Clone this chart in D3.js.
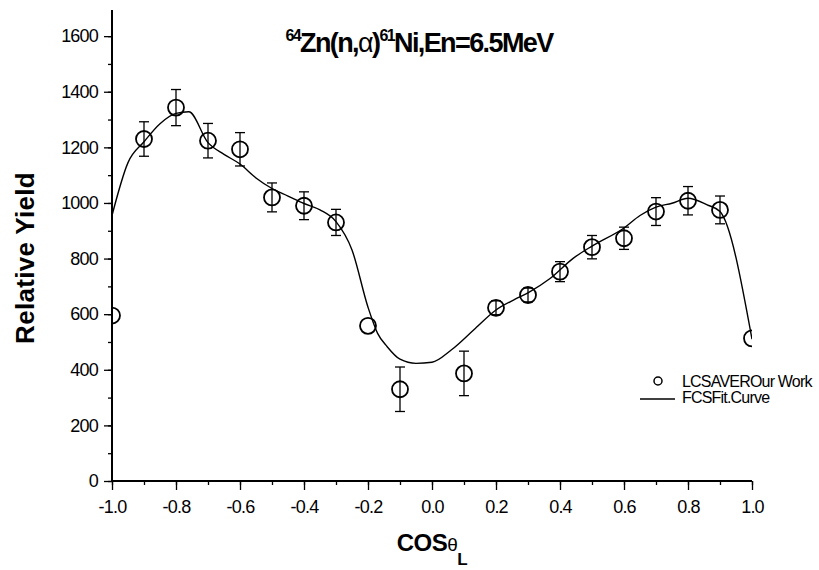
<!DOCTYPE html>
<html>
<head>
<meta charset="utf-8">
<script src="https://cdn.jsdelivr.net/npm/d3@7"></script>
<style>
  html, body { margin: 0; padding: 0; background: #fff; }
  svg { display: block; }
  text { font-family: "Liberation Sans", Arial, sans-serif; fill: #000; }
</style>
</head>
<body>
<svg id="chart" width="819" height="570"></svg>
<script>
// Measured angular distribution (cos theta_L, relative yield, uncertainty)
const measCos = [-1.0, -0.9, -0.8, -0.7, -0.6, -0.5, -0.4, -0.3, -0.2, -0.1, 0.1, 0.2, 0.3, 0.4, 0.5, 0.6, 0.7, 0.8, 0.9, 1.0];
const measYield = [595, 1230, 1343, 1224, 1193, 1020, 990, 930, 558, 330, 387, 623, 669, 753, 841, 873, 969, 1008, 975, 513];
const measErr = [0, 62, 65, 62, 60, 52, 50, 47, 0, 80, 80, 25, 25, 36, 42, 40, 50, 51, 50, 0];

// Fitted curve
const fitCos = [-1.0, -0.95, -0.9, -0.85, -0.8, -0.76, -0.7, -0.65, -0.6, -0.55, -0.5, -0.45, -0.4, -0.35, -0.3, -0.25, -0.2, -0.17, -0.14, -0.1, -0.05, 0.0, 0.06, 0.13, 0.2, 0.26, 0.3, 0.37, 0.44, 0.5, 0.6, 0.65, 0.7, 0.75, 0.8, 0.86, 0.9, 1.0];
const fitYield = [955, 1145, 1220, 1285, 1322, 1328, 1217, 1175, 1140, 1090, 1052, 1025, 998, 975, 933, 831, 625, 531, 483, 438, 423, 427, 471, 543, 615, 654, 677, 729, 800, 845, 910, 955, 985, 999, 1017, 993, 969, 510];

const xTicks = [-1.0, -0.8, -0.6, -0.4, -0.2, 0.0, 0.2, 0.4, 0.6, 0.8, 1.0];
const yTicks = [0, 200, 400, 600, 800, 1000, 1200, 1400, 1600];
const legendLabels = ["LCSAVEROur Work", "FCSFit.Curve"];

const svg = d3.select("#chart");
const mLeft = 112, mRight = 752, mTop = 10, mBottom = 481;

const x = d3.scaleLinear().domain([-1, 1]).range([mLeft, mRight]);
const y = d3.scaleLinear().domain([0, 1694]).range([mBottom, mTop]);

// clip region = plot area
svg.append("defs").append("clipPath").attr("id", "plotClip")
  .append("rect").attr("x", mLeft).attr("y", mTop - 20).attr("width", mRight - mLeft).attr("height", mBottom - mTop + 20);

// x labels with a plain hyphen for negatives
const fmtX = d => d3.format(".1f")(d).replace("\u2212", "-");

// minor + major ticks
const gx = svg.append("g").attr("transform", `translate(0,${mBottom})`);
gx.call(d3.axisBottom(x).tickValues(d3.range(-10, 11).map(d => d / 10)).tickSize(4).tickFormat(""));
const gx2 = svg.append("g").attr("transform", `translate(0,${mBottom})`);
gx2.call(d3.axisBottom(x).tickValues(xTicks).tickSize(9).tickPadding(10).tickFormat(fmtX));

const gy = svg.append("g").attr("transform", `translate(${mLeft},0)`);
gy.call(d3.axisLeft(y).tickValues(d3.range(0, 1700, 100)).tickSize(4).tickFormat(""));
const gy2 = svg.append("g").attr("transform", `translate(${mLeft},0)`);
gy2.call(d3.axisLeft(y).tickValues(yTicks).tickSize(8).tickPadding(6).tickFormat(d3.format("d")));

svg.selectAll(".domain").attr("stroke", "#000").attr("stroke-width", 2);
svg.selectAll(".tick line").attr("stroke", "#000").attr("stroke-width", 1.3);
gx2.selectAll(".tick text").attr("font-size", 18).attr("letter-spacing", "-0.8px");
gy2.selectAll(".tick text").attr("font-size", 18).attr("letter-spacing", "-0.8px");
gy.select(".domain").attr("d", `M0,${mTop}V${mBottom}`);
gy2.select(".domain").remove();
gx2.select(".domain").remove();
gx.select(".domain").attr("d", `M${mLeft},0H${mRight}`);

const plot = svg.append("g").attr("clip-path", "url(#plotClip)");

// fit curve
const line = d3.line().x((d, i) => x(fitCos[i])).y(d => y(d)).curve(d3.curveMonotoneX);
plot.append("path").datum(fitYield).attr("d", line)
  .attr("fill", "none").attr("stroke", "#000").attr("stroke-width", 1.4);

// error bars
const pts = measCos.map((c, i) => ({ c, v: measYield[i], e: measErr[i] }));
const eb = plot.selectAll(".eb").data(pts.filter(d => d.e > 0)).enter().append("g")
  .attr("stroke", "#000").attr("stroke-width", 1.3);
eb.append("line").attr("x1", d => x(d.c)).attr("x2", d => x(d.c))
  .attr("y1", d => y(d.v + d.e)).attr("y2", d => y(d.v - d.e));
eb.append("line").attr("x1", d => x(d.c) - 5).attr("x2", d => x(d.c) + 5)
  .attr("y1", d => y(d.v + d.e)).attr("y2", d => y(d.v + d.e));
eb.append("line").attr("x1", d => x(d.c) - 5).attr("x2", d => x(d.c) + 5)
  .attr("y1", d => y(d.v - d.e)).attr("y2", d => y(d.v - d.e));

// data circles
plot.selectAll(".pt").data(pts).enter().append("circle")
  .attr("cx", d => x(d.c)).attr("cy", d => y(d.v)).attr("r", 8)
  .attr("fill", "none").attr("stroke", "#000").attr("stroke-width", 1.8);

// title
const title = svg.append("text").attr("x", 419).attr("y", 52).attr("text-anchor", "middle")
  .attr("font-size", 27).attr("font-weight", "bold").attr("letter-spacing", "-1.6px");
title.append("tspan").attr("font-size", 16).attr("dy", -11).text("64");
title.append("tspan").attr("dy", 11).text("Zn(n,");
title.append("tspan").attr("font-weight", "normal").text("α");
title.append("tspan").text(")");
title.append("tspan").attr("font-size", 16).attr("dy", -11).text("61");
title.append("tspan").attr("dy", 11).text("Ni,En=6.5MeV");

// axis titles
svg.append("text").attr("transform", "translate(34,258) rotate(-90)").attr("text-anchor", "middle")
  .attr("font-size", 26).attr("font-weight", "bold").attr("letter-spacing", "0.3px").text("Relative Yield");

const xl = svg.append("text").attr("x", 432).attr("y", 551).attr("text-anchor", "middle")
  .attr("font-size", 24).attr("font-weight", "bold").attr("letter-spacing", "-0.5px");
xl.append("tspan").text("COS");
xl.append("tspan").attr("font-size", 19).attr("font-weight", "normal").text("θ");
xl.append("tspan").attr("font-size", 17).attr("font-weight", "bold").attr("dy", 14).text("L");

// legend
const lg = svg.append("g");
lg.append("circle").attr("cx", 658).attr("cy", 381).attr("r", 4)
  .attr("fill", "none").attr("stroke", "#000").attr("stroke-width", 1.5);
lg.append("line").attr("x1", 640).attr("x2", 675).attr("y1", 399).attr("y2", 399)
  .attr("stroke", "#000").attr("stroke-width", 1.4);
lg.selectAll(".lt").data(legendLabels).enter().append("text")
  .attr("x", 682).attr("y", (d, i) => 387 + i * 16)
  .attr("font-size", 16).attr("letter-spacing", "-0.8px").text(d => d);
</script>
</body>
</html>
